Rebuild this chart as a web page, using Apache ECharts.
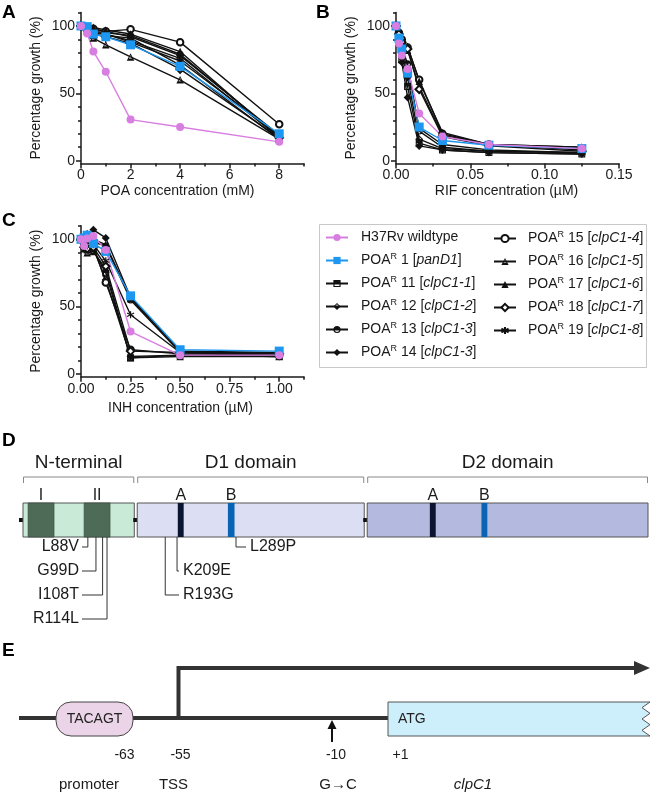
<!DOCTYPE html>
<html>
<head>
<meta charset="utf-8">
<script src="https://cdn.jsdelivr.net/npm/echarts@6.0.0/dist/echarts.min.js"></script>
<style>
html,body{margin:0;padding:0;background:#ffffff;}
#chart{width:651px;height:795px;}
</style>
</head>
<body>
<div id="chart"></div>
<script>
// ======================= DATA =======================
const strainIds = ['H37Rv wildtype','1','11','12','13','14','15','16','17','18','19'];
const genotypes = ['','panD1','clpC1-1','clpC1-2','clpC1-3','clpC1-3','clpC1-4','clpC1-5','clpC1-6','clpC1-7','clpC1-8'];

// Panel A: POA
const poaConc = [0, 0.25, 0.5, 1, 2, 4, 8];
const poaGrowth = [
  [100, 94.5, 81, 66, 30.5, 25, 14],   // H37Rv
  [100, 99.5, 94, 92, 86, 70, 20],     // 1 panD1
  [100, 96, 93, 93, 91, 71, 16],       // 11
  [100, 97, 95, 94, 89, 76, 17],       // 12
  [100, 98, 96, 95, 93, 79, 18],       // 13
  [100, 99, 97, 96, 92, 78, 19],       // 14
  [100, 99, 98, 96, 97.5, 88, 27],     // 15
  [100, 96, 91, 86, 77, 60, 16],       // 16
  [100, 99, 99, 97, 94, 81, 17],       // 17
  [100, 97, 94, 92, 87, 68, 17],       // 18
  [100, 98, 95, 94, 88, 74, 19]        // 19
];

// Panel B: RIF
const rifConc = [0, 0.00195, 0.0039, 0.0078, 0.0156, 0.03125, 0.0625, 0.125];
const rifGrowth = [
  [100, 87, 78, 68, 35, 18, 12, 9],
  [100, 91, 83, 65, 25, 15, 11.5, 9],
  [100, 88, 75, 55, 13, 8, 6, 5],
  [100, 90, 80, 62, 16, 9, 7, 6],
  [100, 92, 84, 72, 22, 10, 7, 6],
  [100, 86, 73, 47, 11, 8, 6, 5],
  [100, 95, 90, 84, 60, 20, 12, 8],
  [100, 93, 87, 82, 55, 19, 12, 10],
  [100, 94, 89, 85, 59, 21, 12, 10],
  [100, 94, 88, 83, 53, 18, 11, 7],
  [100, 90, 82, 68, 24, 12, 8, 6]
];

// Panel C: INH
const inhConc = [0, 0.0156, 0.03125, 0.0625, 0.125, 0.25, 0.5, 1];
const inhGrowth = [
  [100, 95, 100.5, 102.5, 92, 31.5, 14, 14],
  [100, 101, 103, 97, 91, 58, 18, 17],
  [100, 95, 92, 92, 75, 12, 14, 13],
  [100, 96, 94, 93, 70, 13, 14, 13],
  [100, 99, 100, 98, 95, 55, 16, 15],
  [100, 102, 104, 107, 101, 57, 17, 16],
  [100, 97, 96, 95, 68, 18, 15, 14],
  [100, 93, 90, 91, 78, 12, 13, 13],
  [100, 98, 99, 100, 96, 56, 17, 15],
  [100, 94, 93, 94, 80, 17, 16, 15],
  [100, 96, 95, 96, 84, 44, 16, 14]
];

// Tick labels
const growthTicks = [0, 50, 100];
const growthMinorTicks = [10, 20, 30, 40, 60, 70, 80, 90, 110];
const poaTicks = [0, 2, 4, 6, 8];
const poaMinorTicks = [1, 3, 5, 7, 9];
const rifTicks = [0, 0.05, 0.10, 0.15];
const rifMinorTicks = [0.025, 0.075, 0.125];
const inhTicks = [0, 0.25, 0.5, 0.75, 1];
const inhMinorTicks = [0.125, 0.375, 0.625, 0.875, 1.125];

// Panel D: ClpC1 protein (residue numbers)
const domainNames = ['N-terminal', 'D1 domain', 'D2 domain'];
const domainStart = [0, 155, 467];
const domainEnd = [151, 463, 848];
const motifNames = ['I', 'II', 'A', 'B', 'A', 'B'];
const motifStart = [7, 83, 210, 278, 552, 622];
const motifEnd = [42, 118, 218, 287, 560, 630];
const mutations = ['L88V', 'G99D', 'I108T', 'R114L', 'R193G', 'K209E', 'L289P'];

// Panel E: clpC1 promoter region
const positionLabels = ['-63', '-55', '-10', '+1'];
const featureLabels = ['promoter', 'TSS', 'G\u2192C', 'clpC1'];
const promoterSeq = 'TACAGT';
const startCodon = 'ATG';

// ======================= STYLE / LAYOUT =======================
const FONT = '"Liberation Sans", Arial, Helvetica, sans-serif';
const INK = '#1a1a1a';
const seriesNames = strainIds.map((s, i) => i === 0 ? s : 'POAR ' + s + ' [' + genotypes[i] + ']');

const HALF_SQ = 'path://M0,0L10,0L10,10L0,10Z M1.6,5L1.6,8.4L8.4,8.4L8.4,5Z';
const HALF_DIA = 'path://M5,0L10,5L5,10L0,5Z M5,1.9L1.9,5L8.1,5Z';
const HALF_CIR = 'path://M0,5A5,5,0,1,1,10,5A5,5,0,1,1,0,5Z M1.6,5A3.4,3.4,0,0,0,8.4,5Z';
const HALF_TRI = 'path://M5,0L10,10L0,10Z M5,2.6L2.9,7L7.1,7Z';
const ASTER = 'path://M5,0L5,10M0.7,2.5L9.3,7.5M0.7,7.5L9.3,2.5';

const colors = ['#D77EE0', '#1D97F0', '#111', '#111', '#111', '#111', '#111', '#111', '#111', '#111', '#111'];
const symbols = ['circle', 'rect', HALF_SQ, HALF_DIA, HALF_CIR, 'diamond', 'emptyCircle', HALF_TRI, 'triangle', 'emptyDiamond', ASTER];
const symbolSizes = [8, 9, 7, 8, 7, 8, 6.5, 7.5, 7.5, 7.5, 7];
const borderWidths = [0, 0, 0, 0, 0, 0, 1.3, 0, 0, 1.3, 1.2];
const drawOrder = [2, 3, 4, 5, 6, 7, 8, 9, 10, 1, 0];

function buildSeries(conc, growth, axisIdx) {
  return drawOrder.map(i => ({
    type: 'line',
    name: seriesNames[i],
    xAxisIndex: axisIdx,
    yAxisIndex: axisIdx,
    data: conc.map((c, k) => [c, growth[i][k]]),
    symbol: symbols[i],
    symbolSize: symbolSizes[i],
    showAllSymbol: true,
    lineStyle: { color: colors[i], width: 1.4 },
    itemStyle: { color: colors[i], borderColor: colors[i], borderWidth: borderWidths[i] },
    emphasis: { disabled: true },
    silent: true,
    animation: false
  }));
}

const axisLineStyle = { color: INK, width: 1.5 };
const labelStyle = { fontSize: 14, color: INK, fontFamily: FONT };

function xAxes(grid, max, ticks, minor, fmt, name, nameGap, shift) {
  return [
    {
      gridIndex: grid, type: 'value', min: 0, max: max, position: 'bottom',
      axisLine: { show: true, onZero: false, lineStyle: axisLineStyle },
      axisTick: { show: true, customValues: ticks, length: 5, lineStyle: axisLineStyle },
      axisLabel: Object.assign({ customValues: ticks, margin: 5, formatter: fmt }, labelStyle),
      splitLine: { show: false },
      name: name, nameLocation: 'middle', nameGap: nameGap, nameMoveOverlap: false,
      nameTextStyle: { fontSize: 14, color: INK, fontFamily: FONT, verticalAlign: 'top', padding: [0, shift * 2, 0, 0] }
    },
    {
      gridIndex: grid, type: 'value', min: 0, max: max, position: 'bottom',
      axisLine: { show: false, onZero: false },
      axisTick: { show: true, customValues: minor, length: 3, lineStyle: axisLineStyle },
      axisLabel: { show: false }, splitLine: { show: false }
    }
  ];
}
function yAxes(grid) {
  return [
    {
      gridIndex: grid, type: 'value', min: -2, max: 110, position: 'left',
      axisLine: { show: true, onZero: false, lineStyle: axisLineStyle },
      axisTick: { show: true, customValues: growthTicks, length: 5, lineStyle: axisLineStyle },
      axisLabel: Object.assign({ customValues: growthTicks, margin: 6 }, labelStyle),
      splitLine: { show: false },
      name: 'Percentage growth (%)', nameLocation: 'middle', nameGap: 38, nameMoveOverlap: false,
      nameTextStyle: { fontSize: 14, color: INK, fontFamily: FONT }
    },
    {
      gridIndex: grid, type: 'value', min: -2, max: 110, position: 'left',
      axisLine: { show: false, onZero: false },
      axisTick: { show: true, customValues: growthMinorTicks, length: 3, lineStyle: axisLineStyle },
      axisLabel: { show: false }, splitLine: { show: false }
    }
  ];
}

const fmtInt = v => String(v);
const fmt2 = v => v.toFixed(2);

const xAxisList = [].concat(
  xAxes(0, 9, poaTicks, poaMinorTicks, fmtInt, 'POA concentration (mM)', 21, 15),
  xAxes(1, 0.15, rifTicks, rifMinorTicks, fmt2, 'RIF concentration (\u00b5M)', 21, 1),
  xAxes(2, 1.125, inhTicks, inhMinorTicks, fmt2, 'INH concentration (\u00b5M)', 24, 12),
  [{ gridIndex: 3, type: 'value', min: 0, max: 848, show: false }]
);
const yAxisList = [].concat(yAxes(0), yAxes(1), yAxes(2),
  [{ gridIndex: 3, type: 'value', min: 0, max: 1, show: false }]);

function remapAxes(list, idx) { list.forEach(s => { s.xAxisIndex = idx; s.yAxisIndex = idx; }); return list; }
const plotSeries = [].concat(
  remapAxes(buildSeries(poaConc, poaGrowth, 0), 0),
  remapAxes(buildSeries(rifConc, rifGrowth, 2), 2),
  remapAxes(buildSeries(inhConc, inhGrowth, 4), 4)
);

// ---- Legend ----
function legendFmt(name) {
  const i = seriesNames.indexOf(name);
  if (i === 0) return '{t|' + name + '}';
  return '{t|POA}{s|R}{t| ' + strainIds[i] + ' [}{i|' + genotypes[i] + '}{t|]}';
}
const legendRich = {
  t: { fontSize: 14, fontFamily: FONT, color: INK, lineHeight: 16 },
  s: { fontSize: 9, fontFamily: FONT, color: INK, lineHeight: 10, verticalAlign: 'top' },
  i: { fontSize: 14, fontFamily: FONT, color: INK, lineHeight: 16, fontStyle: 'italic' }
};
function legendCol(names, left, padLeft) {
  return {
    data: names, left: left, top: 230.5, orient: 'vertical', padding: 0,
    itemWidth: 22, itemHeight: 9, itemGap: 8, selectedMode: false,
    formatter: legendFmt,
    textStyle: { padding: [0, 0, 0, padLeft], rich: legendRich, fontSize: 14, fontFamily: FONT, color: INK }
  };
}

// ---- Panel D layout ----
const DL = { headerY: 463, brTop: 477, brBot: 483, motifLabelY: 496, boxTop: 503, boxH: 34, rowY: [547, 571, 595, 619] };
const domainFills = ['#C8EAD6', '#DCDFF3', '#B4BADF'];
const motifFills = ['#4E6B58', '#4E6B58', '#0B1530', '#0B63B3', '#0B1530', '#0B63B3'];
const mutRow = [0, 1, 2, 3, 2, 1, 0];
const mutSide = ['L', 'L', 'L', 'L', 'R', 'R', 'R'];
const mutLabelX = [79, 79, 79, 79, 183, 183, 250];

const domainSeries = {
  type: 'custom', xAxisIndex: 6, yAxisIndex: 6, silent: true, animation: false,
  data: domainStart.map((s, i) => [s, domainEnd[i], i]),
  encode: { x: [0, 1] },
  renderItem: function (params, api) {
    const x0 = api.coord([api.value(0), 0])[0];
    const x1 = api.coord([api.value(1), 0])[0];
    const i = api.value(2);
    const midY = DL.boxTop + DL.boxH / 2;
    return {
      type: 'group', children: [
        { type: 'rect', shape: { x: x0 - 4, y: midY - 2, width: 4, height: 4 }, style: { fill: '#111' } },
        { type: 'rect', shape: { x: x0, y: DL.boxTop, width: x1 - x0, height: DL.boxH }, style: { fill: domainFills[i], stroke: '#555', lineWidth: 1 } },
        { type: 'polyline', shape: { points: [[x0 + 0.5, DL.brBot], [x0 + 0.5, DL.brTop], [x1 - 0.5, DL.brTop], [x1 - 0.5, DL.brBot]] }, style: { stroke: '#888', lineWidth: 1, fill: null } },
        { type: 'text', style: { text: domainNames[i], x: (x0 + x1) / 2, y: DL.headerY, align: 'center', verticalAlign: 'middle', font: '19px ' + FONT, fill: INK } }
      ]
    };
  }
};
const motifSeries = {
  type: 'custom', xAxisIndex: 6, yAxisIndex: 6, silent: true, animation: false, z: 3,
  data: motifStart.map((s, i) => [s, motifEnd[i], i]),
  encode: { x: [0, 1] },
  renderItem: function (params, api) {
    const x0 = api.coord([api.value(0), 0])[0];
    const x1 = api.coord([api.value(1), 0])[0];
    const i = api.value(2);
    return {
      type: 'group', children: [
        { type: 'rect', shape: { x: x0, y: DL.boxTop, width: x1 - x0, height: DL.boxH }, style: { fill: motifFills[i], stroke: i < 2 ? '#3d4f43' : null, lineWidth: 0.8 } },
        { type: 'text', style: { text: motifNames[i], x: (x0 + x1) / 2, y: DL.motifLabelY, align: 'center', verticalAlign: 'middle', font: '16px ' + FONT, fill: INK } }
      ]
    };
  }
};
const mutationSeries = {
  type: 'custom', xAxisIndex: 6, yAxisIndex: 6, silent: true, animation: false, z: 4,
  data: mutations.map((m, i) => [parseInt(m.replace(/\D/g, ''), 10), i]),
  encode: { x: 0 },
  renderItem: function (params, api) {
    const x = api.coord([api.value(0), 0])[0];
    const i = api.value(1);
    const y = DL.rowY[mutRow[i]];
    const boxBottom = DL.boxTop + DL.boxH;
    const left = mutSide[i] === 'L';
    const endX = left ? mutLabelX[i] + 3 : mutLabelX[i] - 4;
    return {
      type: 'group', children: [
        { type: 'polyline', shape: { points: [[x, boxBottom], [x, y], [endX, y]] }, style: { stroke: '#333', lineWidth: 1, fill: null } },
        { type: 'text', style: { text: mutations[i], x: mutLabelX[i], y: y, align: left ? 'right' : 'left', verticalAlign: 'middle', font: '16px ' + FONT, fill: INK } }
      ]
    };
  }
};

// ---- Panel E (schematic) ----
const EL = { lineY: 718, boxTop: 702, boxH: 34, arrowY: 668, row1: 755, row2: 785 };
const eLabelX1 = [124.5, 180.5, 336, 400.5];
const eLabelX2 = [89, 173.5, 338, 473];
function zig(x, top, h) {
  const pts = [];
  const n = 6;
  for (let k = 0; k <= n; k++) pts.push([k % 2 === 0 ? x : x - 8, top + h * k / n]);
  return pts;
}
const clpBoxPts = [[388, EL.boxTop]].concat(zig(650, EL.boxTop, EL.boxH), [[388, EL.boxTop + EL.boxH]]);

const graphics = [
  { type: 'text', style: { text: 'A', x: 2, y: 3, font: 'bold 19px ' + FONT, fill: '#000' } },
  { type: 'text', style: { text: 'B', x: 316, y: 3, font: 'bold 19px ' + FONT, fill: '#000' } },
  { type: 'text', style: { text: 'C', x: 2, y: 211, font: 'bold 19px ' + FONT, fill: '#000' } },
  { type: 'text', style: { text: 'D', x: 2, y: 431, font: 'bold 19px ' + FONT, fill: '#000' } },
  { type: 'text', style: { text: 'E', x: 2, y: 641, font: 'bold 19px ' + FONT, fill: '#000' } },
  { type: 'rect', shape: { x: 319.5, y: 224.5, width: 327, height: 143 }, style: { fill: null, stroke: '#c8c8c8', lineWidth: 1 }, z: -1 },
  // E
  { type: 'line', shape: { x1: 19, y1: EL.lineY, x2: 390, y2: EL.lineY }, style: { stroke: '#333', lineWidth: 4 } },
  { type: 'polyline', shape: { points: [[178.5, EL.lineY + 1], [178.5, EL.arrowY], [636, EL.arrowY]] }, style: { stroke: '#333', lineWidth: 4, fill: null } },
  { type: 'polygon', shape: { points: [[634, EL.arrowY - 7], [650, EL.arrowY], [634, EL.arrowY + 7]] }, style: { fill: '#333' } },
  { type: 'rect', shape: { x: 56, y: EL.boxTop, width: 77, height: EL.boxH, r: 15 }, style: { fill: '#EBD4E7', stroke: '#444', lineWidth: 1 } },
  { type: 'text', style: { text: promoterSeq, x: 94.5, y: EL.lineY + 1, align: 'center', verticalAlign: 'middle', font: '14px ' + FONT, fill: '#222' } },
  { type: 'polygon', shape: { points: clpBoxPts }, style: { fill: '#CDEFFC', stroke: '#555', lineWidth: 1 } },
  { type: 'text', style: { text: startCodon, x: 398, y: EL.lineY + 1, align: 'left', verticalAlign: 'middle', font: '14px ' + FONT, fill: '#222' } },
  { type: 'line', shape: { x1: 332, y1: 742, x2: 332, y2: 728 }, style: { stroke: '#111', lineWidth: 2 } },
  { type: 'polygon', shape: { points: [[327.5, 729], [332, 720], [336.5, 729]] }, style: { fill: '#111' } }
];
positionLabels.forEach((t, k) => graphics.push({ type: 'text', style: { text: t, x: eLabelX1[k], y: EL.row1, align: 'center', verticalAlign: 'middle', font: '14px ' + FONT, fill: INK } }));
featureLabels.forEach((t, k) => graphics.push({ type: 'text', style: { text: t, x: eLabelX2[k], y: EL.row2, align: 'center', verticalAlign: 'middle', font: (k === 3 ? 'italic ' : '') + '15px ' + FONT, fill: INK } }));

const option = {
  backgroundColor: '#ffffff',
  animation: false,
  grid: [
    { left: 81, top: 12.5, width: 223, height: 150.9, outerBoundsMode: 'none', containLabel: false },
    { left: 396, top: 12.5, width: 223, height: 150.9, outerBoundsMode: 'none', containLabel: false },
    { left: 81, top: 225.8, width: 223, height: 150.9, outerBoundsMode: 'none', containLabel: false },
    { left: 23, top: 430, width: 625, height: 200, outerBoundsMode: 'none', containLabel: false, show: false }
  ],
  xAxis: xAxisList,
  yAxis: yAxisList,
  legend: [legendCol(seriesNames.slice(0, 6), 325, 8), legendCol(seriesNames.slice(6), 493, 7)],
  series: plotSeries.concat([domainSeries, motifSeries, mutationSeries]),
  graphic: graphics
};

const chart = echarts.init(document.getElementById('chart'), null, { renderer: 'canvas' });
chart.setOption(option);
</script>
</body>
</html>
